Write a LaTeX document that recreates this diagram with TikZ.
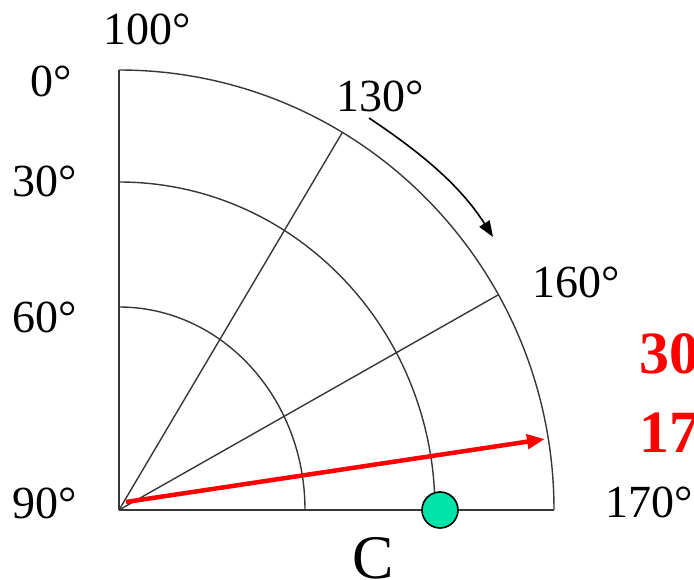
\documentclass[tikz,border=0pt]{standalone}
\usepackage{fontspec}
\setmainfont{Liberation Serif}
\usetikzlibrary{arrows.meta}
\definecolor{dotgreen}{RGB}{0,228,170}
\definecolor{gridgray}{RGB}{55,55,55}
\tikzset{
  lbl/.style={font=\fontsize{46}{46}\selectfont, inner sep=0pt},
  redlbl/.style={font=\fontsize{60}{60}\selectfont\bfseries, text=red, inner sep=0pt},
  gridline/.style={draw=gridgray, line width=1.4pt},
}
\begin{document}
\begin{tikzpicture}[x=1pt,y=-1pt]
\useasboundingbox (0,0) rectangle (694,580);
\coordinate (O) at (119,510);
\coordinate (Top) at (119,70);
\coordinate (R) at (554,510);
% axes
\draw[draw=gridgray, line width=2pt] (Top) -- (O);
\draw[gridline] (O) -- (R);
% arcs
\draw[gridline] (119,70) arc[start angle=-90, end angle=0, x radius=435, y radius=440];
\draw[gridline] (119,182) arc[start angle=-90, end angle=0, x radius=316, y radius=328];
\draw[gridline] (119,307) arc[start angle=-90, end angle=0, x radius=186, y radius=203];
% spokes
\coordinate (S1) at (342,133);
\coordinate (S2) at (498,295);
\draw[gridline] (O) -- (S1);
\draw[gridline] (O) -- (S2);
% red arrow
\coordinate (A0) at (126,502);
\coordinate (A1) at (545,439);
\draw[red, line width=4.5pt, -{Triangle[length=18pt,width=14pt]}] (A0) -- (A1);
% black arrow
\coordinate (B0) at (369,118);
\coordinate (B1) at (493,237);
\draw[black, line width=1.6pt, -{Triangle[length=16pt,width=12pt]}] (B0) .. controls (420,152) and (460,185) .. (B1);
% green dot
\node[circle, draw=black, line width=1.6pt, fill=dotgreen, minimum size=36pt, inner sep=0pt] (dot) at (440,510) {};
% labels
\node[lbl, anchor=base west] (l100) at (103,45) {100°};
\node[lbl, anchor=base east] (l0) at (72,97) {0°};
\node[lbl, anchor=base east] (l30) at (77,197) {30°};
\node[lbl, anchor=base east] (l60) at (77,332) {60°};
\node[lbl, anchor=base east] (l90) at (77,518) {90°};
\node[lbl, anchor=base east] (l130) at (424,112) {130°};
\node[lbl, anchor=base west] (l160) at (532,298) {160°};
\node[lbl, anchor=base west] (l170) at (605,517) {170°};
\node[font=\fontsize{62}{62}\selectfont, inner sep=0pt, anchor=base west] (C) at (352,578) {C};
\node[redlbl, anchor=base west] (r30) at (639,373) {30};
\node[redlbl, anchor=base west] (r17) at (639,452) {17};
\end{tikzpicture}
\end{document}
